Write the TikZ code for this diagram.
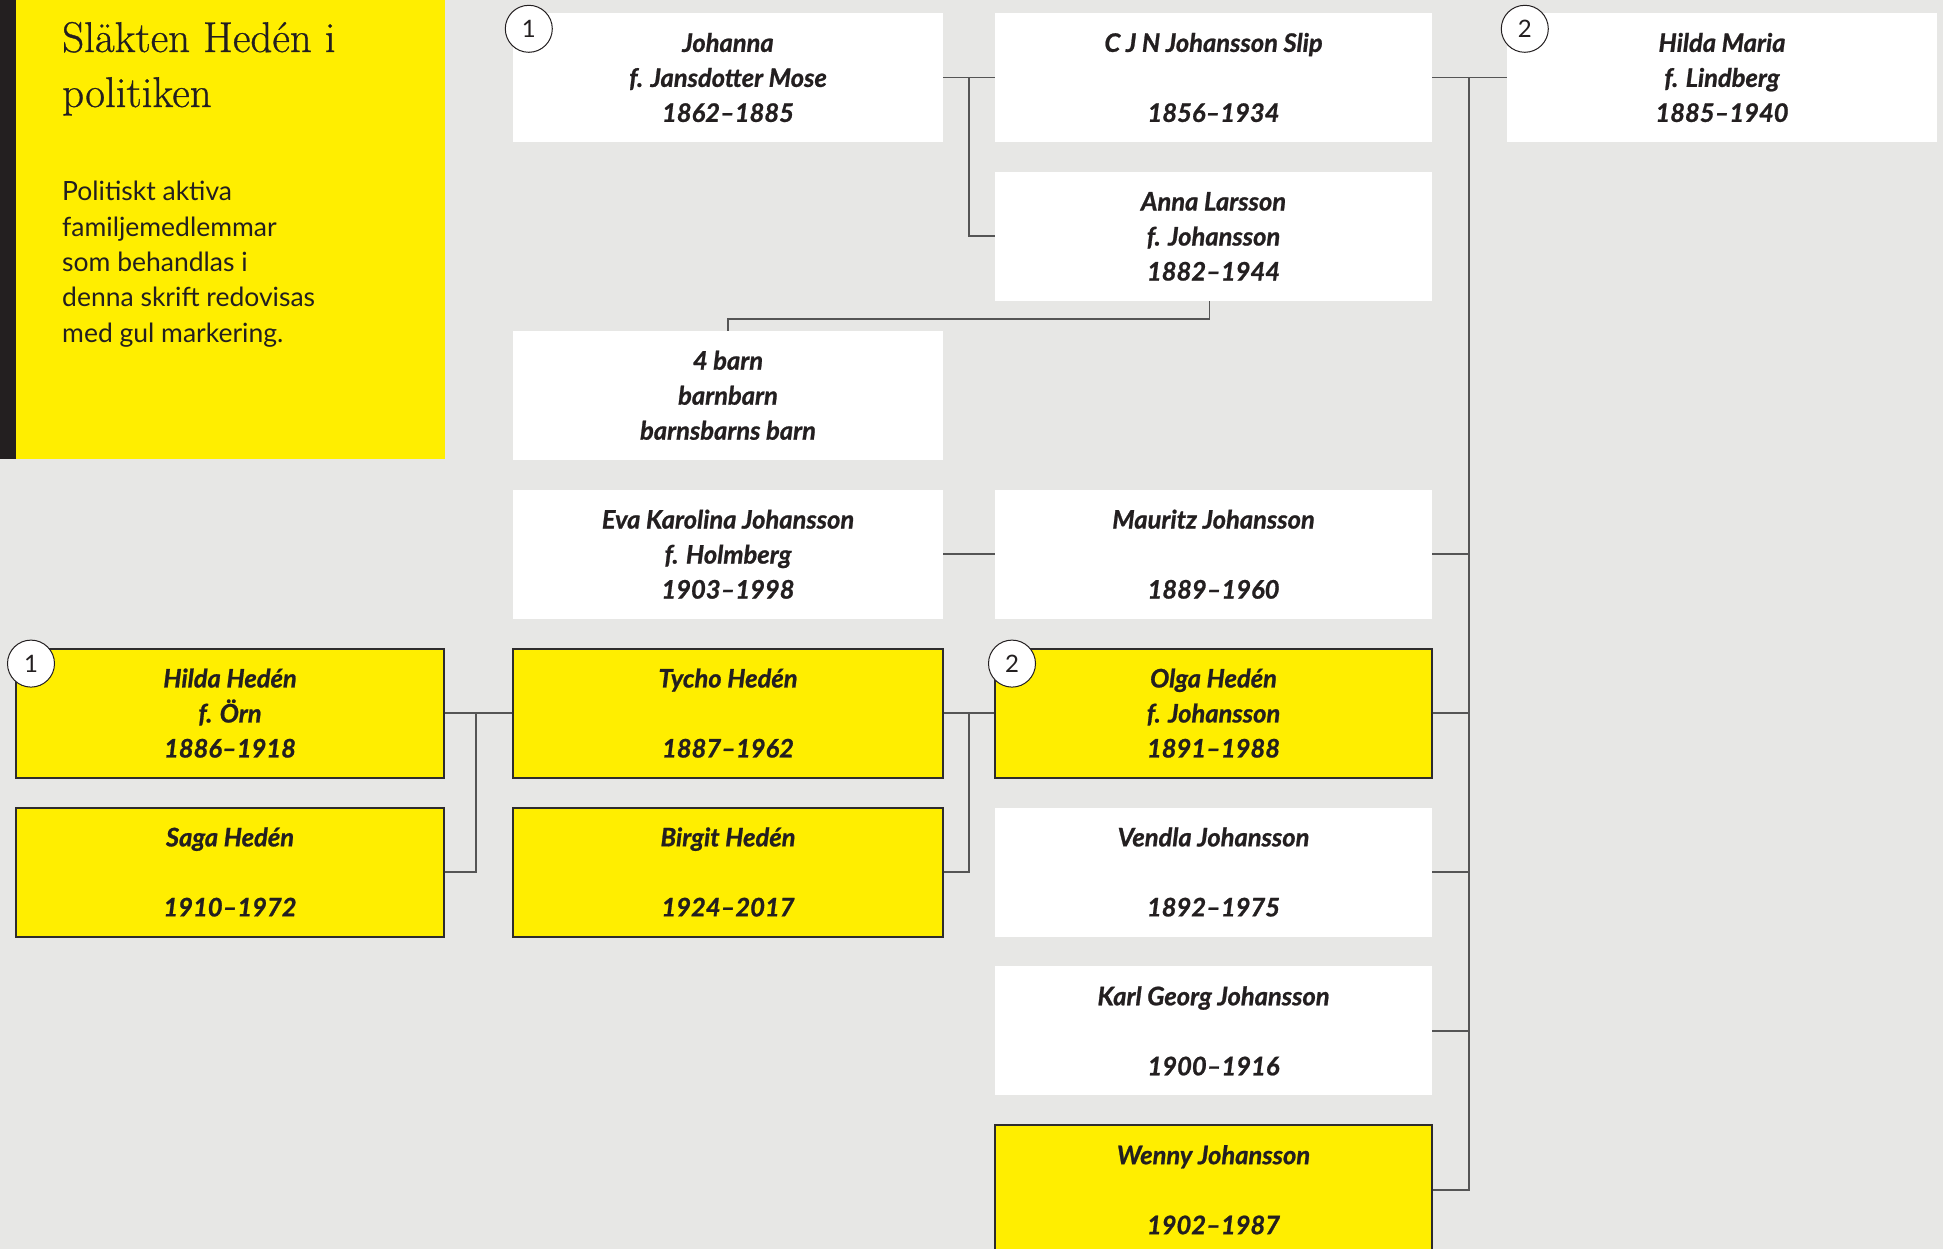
\documentclass[tikz,border=0pt]{standalone}
\usepackage{fontspec}
\newfontfamily\boxfont{Lato}[BoldItalicFeatures={FakeBold=0.9}]
\newfontfamily\titlefont{Latin Modern Roman}[FakeBold=0.7]
\usetikzlibrary{positioning}

\definecolor{paper}{HTML}{E7E7E5}
\definecolor{markyellow}{HTML}{FFEE00}
\definecolor{ink}{HTML}{231F20}
\definecolor{edge}{HTML}{2E2C2C}
\definecolor{linegray}{HTML}{555555}

\begin{document}
\begin{tikzpicture}[x=1pt,y=-1pt,
  person/.style={fill=white, minimum width=430pt, minimum height=129pt, inner sep=0pt,
    align=center, text=ink, font=\boxfont\bfseries\itshape\fontsize{25.5}{35}\selectfont},
  marked/.style={person, fill=markyellow, draw=edge, line width=2pt},
  wide/.style={minimum width=437pt},
  link/.style={draw=linegray, line width=1.8pt},
  numring/.style={circle, draw=ink, line width=1pt, fill=white, minimum size=47pt,
    inner sep=0pt, text=ink, font=\boxfont\fontsize{24}{24}\selectfont}]

  % Canvas and title panel
  \useasboundingbox (0,0) rectangle (1943,1249);
  \fill[paper] (0,0) rectangle (1943,1249);
  \fill[markyellow] (16,0) rectangle (445,459);
  \fill[ink] (0,0) rectangle (16,459);

  % base of a multi-line node is its last line
  \node[anchor=base west, align=left, inner sep=0pt, text=ink,
    font=\titlefont\fontsize{43}{55}\selectfont] (title) at (62,107)
    {Släkten Hedén i\\politiken};
  \node[anchor=base west, align=left, inner sep=0pt, text=ink,
    font=\boxfont\fontsize{26.5}{35.3}\selectfont] (legend) at (62,342)
    {Politiskt aktiva\\familjemedlemmar\\som behandlas i\\denna skrift redovisas\\med gul markering.};

  % First row
  \node[person] (johanna) at (728,77.5) {Johanna\\f. Jansdotter Mose\\1862–1885};
  \node[person, wide] (cjn) at (1213.5,77.5) {C J N Johansson Slip\\[35pt]1856–1934};
  \node[person] (hildamaria) at (1722,77.5) {Hilda Maria\\f. Lindberg\\1885–1940};

  % Children of the first marriage
  \node[person, wide] (anna) at (1213.5,236.4) {Anna Larsson\\f. Johansson\\1882–1944};
  \node[person] (barn) at (728,395.3) {4 barn\\barnbarn\\barnsbarns barn};

  % Children of the second marriage
  \node[person] (eva) at (728,554.2) {Eva Karolina Johansson\\f. Holmberg\\1903–1998};
  \node[person, wide] (mauritz) at (1213.5,554.2) {Mauritz Johansson\\[35pt]1889–1960};
  \node[marked, minimum width=428pt] (hildaheden) at (230,713.1) {Hilda Hedén\\f. Örn\\1886–1918};
  \node[marked] (tycho) at (728,713.1) {Tycho Hedén\\[35pt]1887–1962};
  \node[marked, wide] (olga) at (1213.5,713.1) {Olga Hedén\\f. Johansson\\1891–1988};
  \node[marked, minimum width=428pt] (saga) at (230,872) {Saga Hedén\\[35pt]1910–1972};
  \node[marked] (birgit) at (728,872) {Birgit Hedén\\[35pt]1924–2017};
  \node[person, wide] (vendla) at (1213.5,872) {Vendla Johansson\\[35pt]1892–1975};
  \node[person, wide] (karl) at (1213.5,1030.9) {Karl Georg Johansson\\[35pt]1900–1916};
  \node[marked, wide] (wenny) at (1213.5,1189.8) {Wenny Johansson\\[35pt]1902–1987};

  % Marriage numbers
  \node[numring] (m1) at ([shift={(16,16)}]johanna.north west) {1};
  \node[numring] (m2) at ([shift={(18,16)}]hildamaria.north west) {2};
  \node[numring] (m3) at ([shift={(16,16)}]hildaheden.north west) {1};
  \node[numring] (m4) at ([shift={(18,16)}]olga.north west) {2};

  % Connectors
  \coordinate (j1) at (969,77.5);
  \coordinate (j2) at (1469,77.5);
  \coordinate (j3) at (476,713.1);
  \coordinate (j4) at (969,713.1);

  \draw[link] (johanna.east) -- (cjn.west);
  \draw[link] (j1) |- (anna.west);
  \draw[link] ([xshift=-4pt]anna.south) -- ++(0,18) -| (barn.north);

  \draw[link] (cjn.east) -- (hildamaria.west);
  \draw[link] (j2) |- (wenny.east);
  \foreach \kid in {mauritz,olga,vendla,karl}
    \draw[link] (\kid.east) -- (\kid.east -| j2);

  \draw[link] (eva.east) -- (mauritz.west);
  \draw[link] (hildaheden.east) -- (tycho.west);
  \draw[link] (j3) |- (saga.east);
  \draw[link] (tycho.east) -- (olga.west);
  \draw[link] (j4) |- (birgit.east);

\end{tikzpicture}
\end{document}
